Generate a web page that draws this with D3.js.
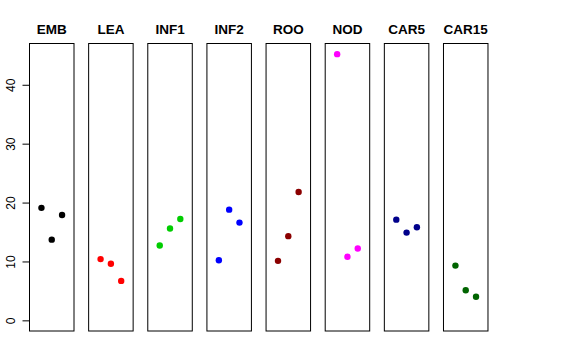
<!DOCTYPE html>
<html>
<head>
<meta charset="utf-8">
<script src="https://cdn.jsdelivr.net/npm/d3@7"></script>
<style>
body { margin: 0; background: #fff; }
svg { display: block; font-family: "Liberation Sans", Arial, sans-serif; }
</style>
</head>
<body>
<div class="chart"></div>
<script>
// samples and their three replicate values
var groups = ["EMB", "LEA", "INF1", "INF2", "ROO", "NOD", "CAR5", "CAR15"];
var colors = ["#000000", "#FF0000", "#00CD00", "#0000FF", "#8B0000", "#FF00FF", "#00008B", "#006400"];
var EMB   = [19.1, 13.7, 17.9];
var LEA   = [10.4, 9.6, 6.7];
var INF1  = [12.7, 15.6, 17.2];
var INF2  = [10.2, 18.8, 16.6];
var ROO   = [10.1, 14.3, 21.8];
var NOD   = [45.2, 10.8, 12.2];
var CAR5  = [17.1, 14.9, 15.8];
var CAR15 = [9.3, 5.1, 4.0];
var yTicks = [0, 10, 20, 30, 40];

var values = [EMB, LEA, INF1, INF2, ROO, NOD, CAR5, CAR15];

var width = 576, height = 360;
var plotTop = 43.5, plotBottom = 331, left0 = 29.5, step = 59.14, panelW = 44.5;

var svg = d3.select(".chart")
    .append("svg")
    .attr("width", width)
    .attr("height", height);

// R-style 4% padded limits
var yMax = d3.max(values, v => d3.max(v));
var yPad = yMax * 0.04;
var y = d3.scaleLinear()
    .domain([-yPad, yMax + yPad])
    .range([plotBottom, plotTop]);

var x = d3.scaleLinear()
    .domain([-0.16, 4.16])
    .range([0, panelW]);

// y axis on first panel
var yAxis = d3.axisLeft(y)
    .tickValues(yTicks)
    .tickSize(7)
    .tickPadding(4);

var axisG = svg.append("g")
    .attr("transform", "translate(" + left0 + ",0)")
    .call(yAxis);
axisG.select(".domain").attr("d", "M0," + y(0) + "V" + y(40));
axisG.selectAll("text")
    .attr("font-size", 12)
    .attr("font-family", "Liberation Sans, Arial, sans-serif")
    .attr("x", -19)
    .attr("y", 0)
    .attr("dy", "0.35em")
    .attr("text-anchor", "middle")
    .attr("transform", "rotate(-90,-19,0)");

var panels = svg.selectAll("g.panel")
    .data(groups)
    .enter()
    .append("g")
    .attr("class", "panel")
    .attr("transform", (d, i) => "translate(" + (left0 + i * step) + ",0)");

panels.append("rect")
    .attr("x", 0)
    .attr("y", plotTop)
    .attr("width", panelW)
    .attr("height", plotBottom - plotTop)
    .attr("fill", "none")
    .attr("stroke", "#000")
    .attr("stroke-width", 1);

panels.append("text")
    .attr("x", panelW / 2)
    .attr("y", 34)
    .attr("text-anchor", "middle")
    .attr("font-size", 13.5)
    .attr("font-weight", "bold")
    .text(d => d);

panels.each(function(d, i) {
    d3.select(this).selectAll("circle")
        .data(values[i])
        .enter()
        .append("circle")
        .attr("cx", (v, j) => x(j + 1))
        .attr("cy", v => y(v))
        .attr("r", 3.2)
        .attr("fill", colors[i]);
});
</script>
</body>
</html>
